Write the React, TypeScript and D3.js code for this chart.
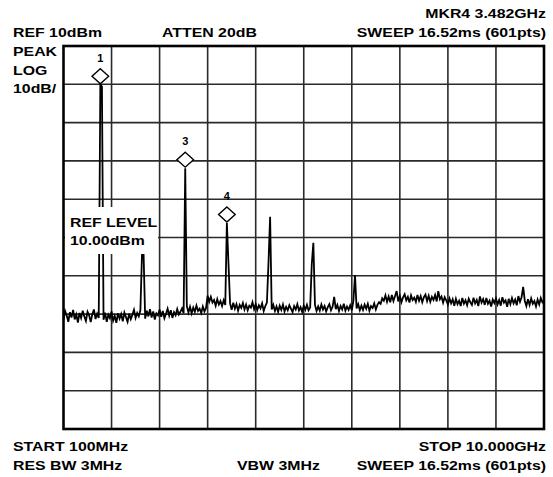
import React from "react";
import * as d3 from "d3";

// Spectrum analyzer screen: 100 MHz .. 10 GHz, REF 10 dBm, 10 dB/div
const startGHz = 0.1;
const stopGHz = 10.0;
const refLevel = 10;
const dbPerDiv = 10;
const hDivs = 10;
const vDivs = 10;

// trace in dBm, evenly spaced from start to stop (301 points)
const trace: number[] = [
  -61.6, -59.2, -60.4, -62.0, -59.5, -60.9, -58.9, -61.4, -60.1, -62.2,
  -59.7, -61.0, -59.1, -60.6, -61.8, -59.4, -60.3, -62.1, -60.0, -58.8,
  -61.3, -59.9, -61.0, -0.1, -0.6, -61.5, -59.6, -62.0, -60.2, -61.1,
  -59.3, -61.7, -60.5, -62.3, -59.8, -61.2, -60.0, -61.9, -59.6, -60.8,
  -62.0, -59.9, -61.3, -60.2, -58.9, -61.0, -59.7, -60.6, -59.0, -44.5,
  -44.3, -61.2, -59.1, -60.6, -58.7, -60.9, -59.3, -61.4, -59.8, -60.3,
  -58.8, -60.7, -59.2, -61.1, -59.9, -58.6, -60.4, -59.0, -61.0, -59.5,
  -60.3, -58.7, -60.1, -59.4, -58.5, -59.8, -21.9, -57.9, -59.6, -58.1,
  -59.8, -58.3, -59.4, -57.8, -59.2, -58.6, -59.7, -58.0, -59.3, -58.4,
  -55.2, -56.8, -55.5, -57.0, -56.3, -57.8, -56.1, -57.5, -56.6, -57.9,
  -56.4, -57.6, -36.2, -46.7, -57.2, -58.9, -57.0, -58.6, -57.4, -59.1,
  -57.6, -58.4, -57.1, -58.8, -57.5, -59.0, -57.8, -58.3, -56.9, -58.7,
  -57.4, -58.9, -57.7, -58.5, -57.2, -59.2, -57.9, -57.0, -46.5, -34.6,
  -58.8, -57.6, -59.2, -58.0, -59.4, -57.8, -58.9, -57.5, -59.3, -58.1,
  -59.0, -57.7, -58.6, -59.5, -57.9, -58.8, -57.4, -59.1, -58.2, -59.4,
  -57.8, -58.9, -57.6, -59.0, -58.3, -47.0, -41.4, -57.6, -59.2, -58.0,
  -59.1, -57.5, -58.8, -57.9, -59.3, -58.2, -57.4, -59.0, -58.1, -55.5,
  -58.7, -57.6, -59.2, -57.9, -58.8, -57.3, -59.1, -58.0, -58.9, -57.7,
  -59.0, -56.5, -49.8, -58.5, -57.4, -59.0, -57.8, -58.9, -57.5, -58.6,
  -57.3, -59.1, -57.9, -58.4, -57.2, -58.8, -57.6, -56.9, -57.3, -55.9,
  -56.5, -55.1, -56.8, -55.4, -56.9, -55.0, -56.6, -55.3, -54.0, -56.7,
  -55.2, -56.9, -55.6, -54.8, -56.4, -55.5, -57.0, -55.1, -56.3, -55.7,
  -56.8, -55.0, -56.5, -55.3, -56.9, -55.6, -54.9, -56.6, -55.2, -56.8,
  -55.5, -56.3, -55.0, -56.7, -54.0, -56.1, -55.4, -57.0, -55.6, -56.4,
  -57.5, -55.9, -57.2, -56.1, -57.8, -56.0, -57.4, -56.5, -57.9, -55.8,
  -57.3, -56.4, -57.7, -56.0, -56.9, -57.6, -55.7, -57.2, -56.3, -57.9,
  -55.4, -57.0, -56.1, -57.6, -55.8, -57.3, -56.5, -58.0, -56.2, -57.1,
  -55.9, -57.5, -56.3, -57.8, -55.6, -57.0, -56.4, -58.1, -56.0, -57.4,
  -55.8, -57.2, -56.2, -57.7, -55.3, -56.8, -55.6, -52.9, -56.5, -57.9,
  -56.1, -57.6, -55.9, -57.3, -56.6, -58.0, -56.2, -57.5, -55.8, -56.9,
  -56.4,
];

// markers: label and trace index
const markerIds = ["1", "3", "4"];
const markerIdx = [23, 76, 102];

const topLeftLines = ["REF 10dBm"];
const sideLines = ["PEAK", "LOG", "10dB/"];
const refLevelLines = ["REF LEVEL", "10.00dBm"];

const W = 553;
const H = 477;
const grid = { left: 63.5, right: 544, top: 46, bottom: 429 };
const font = "'Liberation Sans', Arial, Helvetica, sans-serif";

const Label = ({ x, y, text, anchor = "start" }: { x: number; y: number; text: string; anchor?: string }) => (
  <text
    transform={`translate(${x},${y}) scale(1.22,1)`}
    textAnchor={anchor}
    fontFamily={font}
    fontWeight="bold"
    fontSize={13}
    fill="#000"
  >
    {text}
  </text>
);

export default function App() {
  const n = trace.length;
  const fx = d3.scaleLinear().domain([startGHz, stopGHz]).range([grid.left, grid.right]);
  const y = d3
    .scaleLinear()
    .domain([refLevel - dbPerDiv * vDivs, refLevel])
    .range([grid.bottom, grid.top]);
  const freqAt = (i: number) => startGHz + (i * (stopGHz - startGHz)) / (n - 1);

  const gx = d3.scaleLinear().domain([0, hDivs]).range([grid.left, grid.right]);
  const gy = d3.scaleLinear().domain([0, vDivs]).range([grid.top, grid.bottom]);

  const line = d3
    .line<number>()
    .x((_, i) => fx(freqAt(i)))
    .y((d) => y(d));

  return (
    <svg
      width={W}
      height={H}
      style={{ position: "absolute", left: 0, top: 0, background: "#fff" }}
    >
      <rect width={W} height={H} fill="#fff" />
      {/* grid */}
      <g stroke="#2a2a2a" strokeWidth={1.6}>
        {d3.range(1, hDivs).map((k) => (
          <line key={"v" + k} x1={gx(k)} x2={gx(k)} y1={grid.top} y2={grid.bottom} />
        ))}
        {d3.range(1, vDivs).map((k) => (
          <line key={"h" + k} x1={grid.left} x2={grid.right} y1={gy(k)} y2={gy(k)} />
        ))}
      </g>
      {/* trace */}
      <path
        d={line(trace) || ""}
        fill="none"
        stroke="#000"
        strokeWidth={1.8}
        strokeLinejoin="miter"
      />
      {/* REF LEVEL box covers the trace */}
      <rect x={65} y={207} width={93} height={47} fill="#fff" />
      {refLevelLines.map((t, i) => (
        <Label key={t} x={70} y={227 + i * 18} text={t} />
      ))}
      {/* frame */}
      <rect
        x={grid.left}
        y={grid.top}
        width={grid.right - grid.left}
        height={grid.bottom - grid.top}
        fill="none"
        stroke="#000"
        strokeWidth={2.6}
      />
      {/* markers */}
      {markerIdx.map((idx, k) => {
        const cx = fx(freqAt(idx));
        const py = y(trace[idx]);
        const cy = py - 8.5;
        return (
          <g key={markerIds[k]}>
            <path
              d={`M${cx},${cy - 7.5}L${cx + 8.3},${cy}L${cx},${cy + 7.5}L${cx - 8.3},${cy}Z`}
              fill="#fff"
              stroke="#000"
              strokeWidth={1.4}
            />
            <text
              x={cx}
              y={cy - 14.5}
              textAnchor="middle"
              fontFamily={font}
              fontWeight="bold"
              fontSize={11}
            >
              {markerIds[k]}
            </text>
          </g>
        );
      })}
      {/* header */}
      {topLeftLines.map((t) => (
        <Label key={t} x={13} y={36.7} text={t} />
      ))}
      <Label x={162} y={36.7} text="ATTEN 20dB" />
      <Label x={546} y={18.3} text="MKR4 3.482GHz" anchor="end" />
      <Label x={546} y={36.7} text="SWEEP 16.52ms (601pts)" anchor="end" />
      {sideLines.map((t, i) => (
        <Label key={t} x={13} y={56 + i * 18.6} text={t} />
      ))}
      {/* footer */}
      <Label x={13} y={451} text="START 100MHz" />
      <Label x={13} y={470} text="RES BW 3MHz" />
      <Label x={237} y={470} text="VBW 3MHz" />
      <Label x={546} y={451} text="STOP 10.000GHz" anchor="end" />
      <Label x={546} y={470} text="SWEEP 16.52ms (601pts)" anchor="end" />
    </svg>
  );
}
